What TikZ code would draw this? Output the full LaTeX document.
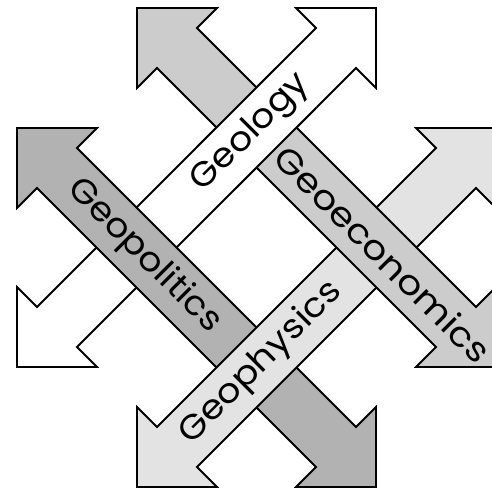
\documentclass[tikz,border=0pt]{standalone}
\usepackage{fontspec}
\usepackage{graphicx}
\setmainfont{Poppins}
\definecolor{gpolfill}{gray}{0.70}
\definecolor{gecofill}{gray}{0.80}
\definecolor{gphyfill}{gray}{0.89}
% #1,#2 tip; #3,#4 direction signs; #5 run length; #6 style
\newcommand{\geoarrow}[6]{%
  \path[#6] (#1,#2) -- ({#1+80*(#3)},#2) -- ({#1+60*(#3)},{#2+20*(#4)})
    -- ({#1+(#5-20)*(#3)},{#2+(#5-60)*(#4)}) -- ({#1+#5*(#3)},{#2+(#5-80)*(#4)})
    -- ({#1+#5*(#3)},{#2+#5*(#4)}) -- ({#1+(#5-80)*(#3)},{#2+#5*(#4)})
    -- ({#1+(#5-60)*(#3)},{#2+(#5-20)*(#4)}) -- ({#1+20*(#3)},{#2+60*(#4)})
    -- (#1,{#2+80*(#4)}) -- cycle;}
\newcommand{\fitlbl}[2]{\resizebox{#1}{\height}{#2}}
\tikzset{
  arrowbox/.style={draw=black, line width=1.8pt, line join=miter},
  lbl/.style={font=\fontsize{34}{34}\selectfont, inner sep=0pt}
}
\begin{document}
\begin{tikzpicture}[x=1pt,y=-1pt]
\useasboundingbox (0,0) rectangle (492,489);
% Geology (white)
\geoarrow{17}{367}{1}{-1}{359}{arrowbox, fill=white}
% Geopolitics
\geoarrow{17}{128}{1}{1}{359}{arrowbox, fill=gpolfill}
% Geophysics
\geoarrow{137}{487}{1}{-1}{359}{arrowbox, fill=gphyfill}
% Geoeconomics
\geoarrow{137}{8}{1}{1}{359}{arrowbox, fill=gecofill}
% Geology again over Geoeconomics crossing
\begin{scope}
  \clip (196,68) rectangle (316,188);
  \geoarrow{17}{367}{1}{-1}{359}{arrowbox, fill=white}
\end{scope}
\node[lbl, rotate=45] (geology) at (251,133) {\fitlbl{152pt}{Geology}};
\node[lbl, rotate=-45] (geoeco) at (383,254) {\fitlbl{290pt}{Geoeconomics}};
\node[lbl, rotate=-45] (geopol) at (144,256) {\fitlbl{203pt}{Geopolitics}};
\node[lbl, rotate=45] (geophy) at (261,363) {\fitlbl{215pt}{Geophysics}};
\end{tikzpicture}
\end{document}
